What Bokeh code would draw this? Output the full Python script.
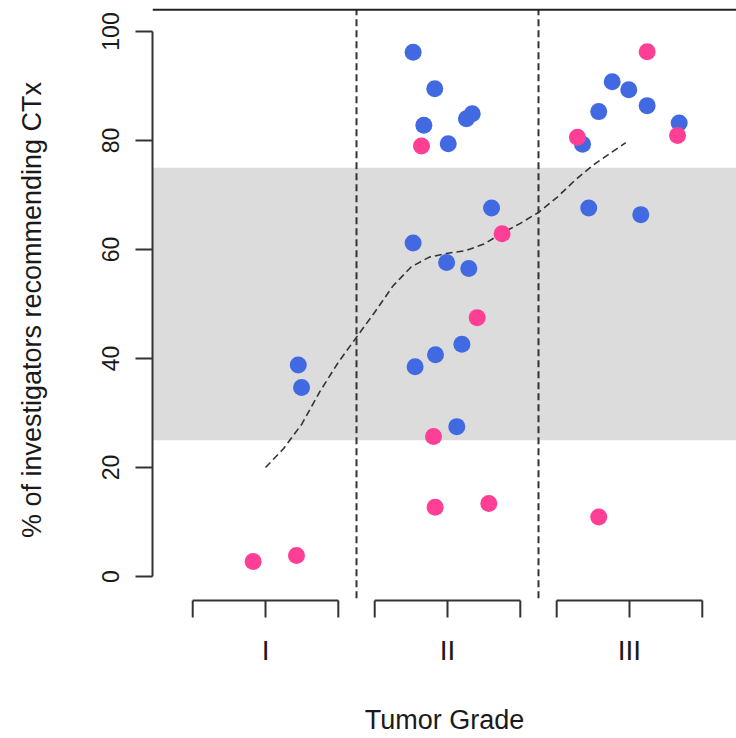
from bokeh.plotting import figure
from bokeh.models import Range1d, FixedTicker, BoxAnnotation, Span
from bokeh.embed import file_html
from bokeh.resources import INLINE

# ---- data ----
grade_pos = [1, 2, 3]
grade_labels = ["I", "II", "III"]
y_ticks = [0, 20, 40, 60, 80, 100]
band_low, band_high = 25, 75

blue_x = [1.180, 1.198,
          1.811, 1.930, 1.870, 2.004, 2.104, 2.136, 2.242, 1.811, 1.995, 2.117, 2.079, 1.934, 1.822, 2.051,
          2.905, 2.996, 3.097, 2.831, 3.273, 2.742, 2.776, 3.062]
blue_y = [38.8, 34.7,
          96.2, 89.5, 82.8, 79.4, 84.0, 84.9, 67.6, 61.2, 57.6, 56.5, 42.6, 40.7, 38.5, 27.5,
          90.8, 89.3, 86.4, 85.3, 83.2, 79.3, 67.6, 66.4]

pink_x = [0.932, 1.170,
          1.857, 2.300, 2.163, 1.923, 1.932, 2.227,
          3.097, 3.264, 2.714, 2.831]
pink_y = [2.75, 3.85,
          79.0, 62.9, 47.5, 25.7, 12.7, 13.4,
          96.3, 80.9, 80.6, 10.9]

curve_x = [1.0, 1.1, 1.2, 1.3, 1.4, 1.5, 1.6, 1.7, 1.8, 1.9, 2.0,
           2.1, 2.2, 2.3, 2.4, 2.5, 2.6, 2.7, 2.8, 2.9, 2.98]
curve_y = [20.0, 23.5, 28.0, 34.0, 39.3, 43.9, 48.5, 53.3, 56.8, 58.6, 59.3,
           59.8, 61.0, 63.0, 64.8, 66.8, 69.5, 72.7, 75.5, 77.8, 79.6]

# ---- figure ----
FONT = "Liberation Sans"
TXT = "#1a1a1a"
ylo, yhi = 0, 100
pad = 0.04 * (yhi - ylo)

p = figure(width=736, height=738,
           x_range=Range1d(0.379, 3.588), y_range=Range1d(-7.89, 105.69),
           output_backend="svg", toolbar_location=None,
           min_border_left=152, min_border_right=0, min_border_top=0, min_border_bottom=119)
p.outline_line_color = None
p.xgrid.visible = False
p.ygrid.visible = False
p.background_fill_color = "white"
p.border_fill_color = "white"

# grey band
p.add_layout(BoxAnnotation(bottom=band_low, top=band_high, fill_color="#DCDCDC",
                           fill_alpha=1, line_color=None, level="underlay"))
# top box line
p.add_layout(Span(location=yhi + pad, dimension="width", line_color="#222222", line_width=2))

# vertical dashed separators
sep_x = [(grade_pos[i] + grade_pos[i + 1]) / 2 for i in range(len(grade_pos) - 1)]
p.segment(x0=sep_x, y0=[ylo - pad] * len(sep_x), x1=sep_x, y1=[yhi + pad] * len(sep_x),
          line_color="#333333", line_width=2, line_dash="7 4")

# bracket axis segments per group
half = 0.4
yb = -4.4
yt = yb - 17 / 5.45
hx0, hx1, hy = [], [], []
tx = []
for g in grade_pos:
    hx0.append(g - half); hx1.append(g + half); hy.append(yb)
    tx.extend([g - half, g, g + half])
p.segment(x0=hx0, y0=hy, x1=hx1, y1=hy, line_color="#333333", line_width=2)
p.segment(x0=tx, y0=[yb] * len(tx), x1=tx, y1=[yt] * len(tx), line_color="#333333", line_width=2)

# smoother
p.line(curve_x, curve_y, line_color="#333333", line_width=1.6, line_dash="7 4")

# points
p.scatter(blue_x, blue_y, size=17, fill_color="#4169E1", line_color=None)
p.scatter(pink_x, pink_y, size=17, fill_color="#FF3E96", line_color=None)

# y axis
ya = p.yaxis[0]
ya.bounds = (ylo, yhi)
ya.ticker = FixedTicker(ticks=y_ticks)
ya.minor_tick_line_color = None
ya.major_tick_in = 0
ya.major_tick_out = 17
ya.axis_line_width = 2
ya.axis_line_color = "#333333"
ya.major_tick_line_width = 2
ya.major_tick_line_color = "#333333"
ya.major_label_orientation = "vertical"
ya.major_label_standoff = 16
ya.major_label_text_font = FONT
ya.major_label_text_font_size = "23px"
ya.major_label_text_color = TXT
ya.axis_label = "% of investigators recommending CTx"
ya.axis_label_text_font = FONT
ya.axis_label_text_font_size = "27px"
ya.axis_label_text_font_style = "normal"
ya.axis_label_text_color = TXT
ya.axis_label_standoff = 53

# x axis
xa = p.xaxis[0]
xa.ticker = FixedTicker(ticks=grade_pos)
xa.major_label_overrides = {g: l for g, l in zip(grade_pos, grade_labels)}
xa.axis_line_color = None
xa.major_tick_line_color = None
xa.minor_tick_line_color = None
xa.major_tick_in = 0
xa.major_tick_out = 0
xa.major_label_standoff = 15
xa.major_label_text_font = FONT
xa.major_label_text_font_size = "28px"
xa.major_label_text_color = TXT
xa.axis_label = "Tumor Grade"
xa.axis_label_text_font = FONT
xa.axis_label_text_font_size = "27px"
xa.axis_label_text_font_style = "normal"
xa.axis_label_text_color = TXT
xa.axis_label_standoff = 36

open("out.html", "w").write(file_html(p, INLINE))
